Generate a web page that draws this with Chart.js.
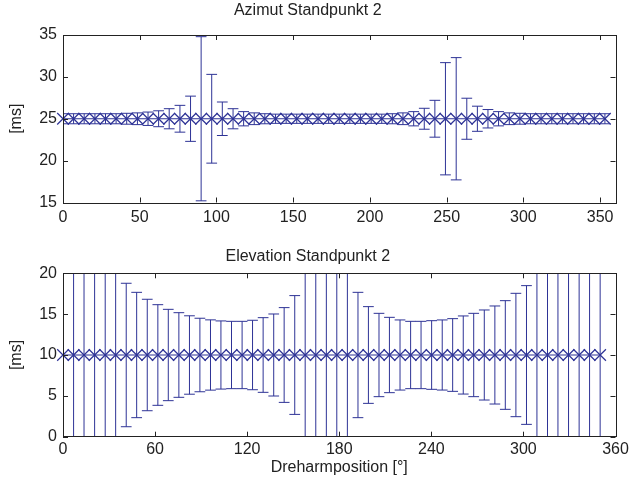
<!DOCTYPE html>
<html>
<head>
<meta charset="utf-8">
<script src="https://cdn.jsdelivr.net/npm/chart.js@4.4.0/dist/chart.umd.min.js"></script>
<style>
  html, body { margin: 0; padding: 0; background: #fff; }
  #fig { position: relative; width: 637px; height: 481px; }
  canvas { position: absolute; left: 0; }
</style>
</head>
<body>
<div id="fig">
  <canvas id="azChart" width="637" height="240" style="top:0"></canvas>
  <canvas id="elChart" width="637" height="241" style="top:240px"></canvas>
</div>
<script>
// Azimut: Dreharmposition [°], Mittelwert und Streuung [ms]
const azPos = [0, 6.9, 13.8, 20.8, 27.7, 34.6, 41.5, 48.5, 55.4, 62.3, 69.2, 76.2, 83.1,
  90.0, 96.9, 103.8, 110.8, 117.7, 124.6, 131.5, 138.5, 145.4, 152.3, 159.2, 166.2, 173.1,
  180.0, 186.9, 193.8, 200.8, 207.7, 214.6, 221.5, 228.5, 235.4, 242.3, 249.2, 256.2, 263.1,
  270.0, 276.9, 283.8, 290.8, 297.7, 304.6, 311.5, 318.5, 325.4, 332.3, 339.2, 346.2, 353.1];
const azMean = [25, 25, 25, 25, 25, 25, 25, 25, 25, 25, 25, 25, 25,
  25, 25, 25, 25, 25, 25, 25, 25, 25, 25, 25, 25, 25,
  25, 25, 25, 25, 25, 25, 25, 25, 25, 25, 25, 25, 25,
  25, 25, 25, 25, 25, 25, 25, 25, 25, 25, 25, 25, 25];
const azErr = [0.6, 0.6, 0.6, 0.6, 0.6, 0.6, 0.65, 0.7, 0.8, 0.95, 1.2, 1.6, 2.7,
  9.8, 5.3, 2.0, 1.2, 0.85, 0.7, 0.6, 0.55, 0.55, 0.55, 0.55, 0.55, 0.55,
  0.55, 0.55, 0.55, 0.55, 0.55, 0.6, 0.7, 0.85, 1.25, 2.2, 6.7, 7.3, 2.45,
  1.5, 1.1, 0.85, 0.7, 0.65, 0.6, 0.6, 0.6, 0.6, 0.6, 0.6, 0.6, 0.6];
const azXTicks = [0, 50, 100, 150, 200, 250, 300, 350];
const azYTicks = [15, 20, 25, 30, 35];

// Elevation
const elPos = [0, 6.9, 13.7, 20.6, 27.5, 34.3, 41.2, 48.0, 54.9, 61.8, 68.6, 75.5, 82.4,
  89.2, 96.1, 102.9, 109.8, 116.7, 123.5, 130.4, 137.3, 144.1, 151.0, 157.8, 164.7, 171.6,
  178.4, 185.3, 192.2, 199.0, 205.9, 212.7, 219.6, 226.5, 233.3, 240.2, 247.1, 253.9, 260.8,
  267.6, 274.5, 281.4, 288.2, 295.1, 302.0, 308.8, 315.7, 322.5, 329.4, 336.3, 343.1, 350.0];
const elMean = [10, 10, 10, 10, 10, 10, 10, 10, 10, 10, 10, 10, 10,
  10, 10, 10, 10, 10, 10, 10, 10, 10, 10, 10, 10, 10,
  10, 10, 10, 10, 10, 10, 10, 10, 10, 10, 10, 10, 10,
  10, 10, 10, 10, 10, 10, 10, 10, 10, 10, 10, 10, 10];
const elErr = [30, 26, 22, 18, 14.5, 11.5, 8.78, 7.67, 6.82, 6.16, 5.59, 5.18, 4.8,
  4.5, 4.3, 4.17, 4.12, 4.12, 4.25, 4.57, 5.02, 5.8, 7.27, 11.5, 16, 24,
  24, 13, 7.67, 5.92, 5.1, 4.61, 4.29, 4.12, 4.12, 4.2, 4.29, 4.45, 4.78,
  5.1, 5.51, 6.0, 6.65, 7.55, 8.49, 11, 13.5, 16, 19, 23, 27, 32];
const elXTicks = [0, 60, 120, 180, 240, 300, 360];
const elYTicks = [0, 5, 10, 15, 20];

const BLUE = '#2e3396';
const INK = '#222222';
const FONT = { family: '"Liberation Sans", Arial, sans-serif', size: 16 };
const CAP = 3.5;      // half width of the error bar tee, in degrees
const TICK_LEN = 5;

// vertical error bars with tees, clipped to the axes box
const errorBars = {
  id: 'errorBars',
  afterDatasetsDraw(chart) {
    const { ctx, chartArea: a, scales: { x, y } } = chart;
    ctx.save();
    ctx.beginPath();
    ctx.rect(a.left, a.top, a.right - a.left, a.bottom - a.top);
    ctx.clip();
    ctx.strokeStyle = BLUE;
    ctx.lineWidth = 1;
    chart.data.datasets.forEach(ds => {
      ctx.beginPath();
      ds.data.forEach((p, i) => {
        const e = ds.errors[i];
        const px = x.getPixelForValue(p.x);
        const lo = y.getPixelForValue(p.y - e);
        const hi = y.getPixelForValue(p.y + e);
        const l = x.getPixelForValue(p.x - CAP);
        const r = x.getPixelForValue(p.x + CAP);
        ctx.moveTo(px, lo); ctx.lineTo(px, hi);
        ctx.moveTo(l, lo); ctx.lineTo(r, lo);
        ctx.moveTo(l, hi); ctx.lineTo(r, hi);
      });
      ctx.stroke();
    });
    ctx.restore();
  }
};

// box around the axes with inward ticks on all four sides
const axesBox = {
  id: 'axesBox',
  afterDraw(chart) {
    const { ctx, chartArea: a, scales: { x, y } } = chart;
    ctx.save();
    ctx.strokeStyle = INK;
    ctx.lineWidth = 1;
    ctx.beginPath();
    x.ticks.forEach(t => {
      const px = Math.round(x.getPixelForValue(t.value)) + 0.5;
      ctx.moveTo(px, a.bottom); ctx.lineTo(px, a.bottom - TICK_LEN);
      ctx.moveTo(px, a.top); ctx.lineTo(px, a.top + TICK_LEN);
    });
    y.ticks.forEach(t => {
      const py = Math.round(y.getPixelForValue(t.value)) + 0.5;
      ctx.moveTo(a.left, py); ctx.lineTo(a.left + TICK_LEN, py);
      ctx.moveTo(a.right, py); ctx.lineTo(a.right - TICK_LEN, py);
    });
    ctx.stroke();
    ctx.strokeRect(Math.round(a.left) + 0.5, Math.round(a.top) + 0.5,
      Math.round(a.right - a.left), Math.round(a.bottom - a.top));
    ctx.restore();
  }
};

function makeChart(id, cfg) {
  const pts = cfg.pos.map((v, i) => ({ x: v, y: cfg.mean[i] }));
  return new Chart(document.getElementById(id), {
    type: 'line',
    data: {
      datasets: [{
        data: pts,
        errors: cfg.err,
        borderColor: BLUE,
        borderWidth: 1,
        pointStyle: 'crossRot',
        pointRadius: 8.2,
        pointBorderColor: BLUE,
        pointBorderWidth: 1.2,
        pointBackgroundColor: BLUE,
        tension: 0,
        clip: false
      }]
    },
    options: {
      responsive: false,
      animation: false,
      events: [],
      layout: { padding: { left: 0, right: 637 - cfg.right, top: 0, bottom: 0 } },
      plugins: {
        legend: { display: false },
        tooltip: { enabled: false },
        title: {
          display: true,
          text: cfg.title,
          color: INK,
          font: { ...FONT, weight: 'normal' },
          padding: { top: cfg.titleTop, bottom: cfg.titleBottom }
        }
      },
      scales: {
        x: {
          type: 'linear',
          min: cfg.xMin, max: cfg.xMax,
          afterBuildTicks: s => { s.ticks = cfg.xTicks.map(v => ({ value: v })); },
          afterFit: s => { s.height = cfg.xHeight; },
          grid: { display: false, drawTicks: false },
          border: { display: false },
          ticks: { color: INK, font: FONT, padding: cfg.xPad, maxRotation: 0, autoSkip: false },
          title: cfg.xTitle ? {
            display: true, text: cfg.xTitle, color: INK, font: FONT,
            padding: { top: 0, bottom: cfg.xTitlePad }
          } : { display: false }
        },
        y: {
          type: 'linear',
          min: cfg.yMin, max: cfg.yMax,
          afterBuildTicks: s => { s.ticks = cfg.yTicks.map(v => ({ value: v })); },
          afterFit: s => { s.width = 63; },
          grid: { display: false, drawTicks: false },
          border: { display: false },
          ticks: { color: INK, font: FONT, padding: 6, autoSkip: false },
          title: {
            display: true, text: '[ms]', color: INK, font: FONT,
            padding: { top: 7.4, bottom: 0 }
          }
        }
      }
    },
    plugins: [errorBars, axesBox]
  });
}

makeChart('azChart', {
  title: 'Azimut Standpunkt 2',
  pos: azPos, mean: azMean, err: azErr,
  xMin: 0, xMax: 360, yMin: 15, yMax: 35,
  xTicks: azXTicks, yTicks: azYTicks,
  right: 615.5,
  titleTop: 1.4, titleBottom: 14.4,
  xHeight: 37.5, xPad: 5
});

makeChart('elChart', {
  title: 'Elevation Standpunkt 2',
  pos: elPos, mean: elMean, err: elErr,
  xMin: 0, xMax: 360, yMin: 0, yMax: 20,
  xTicks: elXTicks, yTicks: elYTicks,
  right: 615.5,
  titleTop: 7.4, titleBottom: 6.7,
  xHeight: 44.3, xPad: 3,
  xTitle: 'Dreharmposition [°]', xTitlePad: 4
});
</script>
</body>
</html>
